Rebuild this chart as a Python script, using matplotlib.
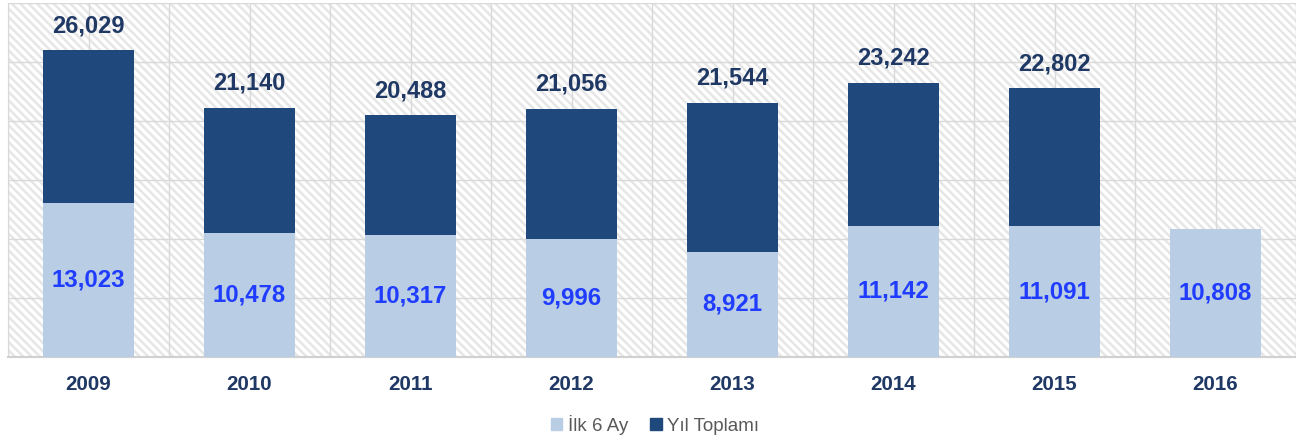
import matplotlib.pyplot as plt
from matplotlib.patches import Rectangle
import numpy as np

plt.rcParams['font.family'] = ['Liberation Sans', 'DejaVu Sans']
plt.rcParams['hatch.linewidth'] = 1.8
plt.rcParams['hatch.color'] = '#e6e6e6'

years = ['2009', '2010', '2011', '2012', '2013', '2014', '2015', '2016']
first_half = [13023, 10478, 10317, 9996, 8921, 11142, 11091, 10808]
year_total = [26029, 21140, 20488, 21056, 21544, 23242, 22802, None]

light = '#b9cde5'
dark = '#1f497d'
navy_text = '#1f3864'
blue_text = '#1f3cff'

fig = plt.figure(figsize=(12.96, 4.41), dpi=100)
ax = fig.add_axes([8 / 1296, 1 - 357 / 441, 1288 / 1296, 354 / 441])

# hatched background
ax.add_patch(Rectangle((0, 0), 1, 1, transform=ax.transAxes, facecolor='white',
                       edgecolor='#e6e6e6', hatch='\\\\\\\\', linewidth=0, zorder=0))

x = np.arange(len(years))
ax.set_xlim(-0.5, len(years) - 0.5)
ax.set_ylim(0, 30000)

# grid
for gy in range(5000, 30001, 5000):
    ax.axhline(gy, color='#d9d9d9', linewidth=1, zorder=1)
for gx in np.arange(-0.5, len(years), 0.5):
    ax.axvline(gx, color='#d9d9d9', linewidth=1, zorder=1)

w = 0.57
tot_x = [xi for xi, v in zip(x, year_total) if v is not None]
tot_v = [v for v in year_total if v is not None]
ax.bar(tot_x, tot_v, width=w, color=dark, zorder=2)
ax.bar(x, first_half, width=w, color=light, zorder=3)

for xi, v in zip(tot_x, tot_v):
    ax.annotate(f'{v:,}', (xi, v), xytext=(0, 17.5), textcoords='offset points',
                ha='center', va='center', fontsize=17, fontweight='bold', color=navy_text)
for xi, v in zip(x, first_half):
    ax.text(xi, v / 2, f'{v:,}', ha='center', va='center', fontsize=17.3,
            fontweight='bold', color=blue_text, zorder=4)

ax.set_xticks(x)
ax.set_xticklabels(years, fontsize=14.8, fontweight='bold', color=navy_text)
ax.tick_params(axis='x', length=0, pad=13)
ax.set_yticks([])
for side in ['top', 'right']:
    ax.spines[side].set_visible(False)
ax.spines['left'].set_color('#d9d9d9')
ax.spines['bottom'].set_color('#d0d0d0')
ax.spines['bottom'].set_linewidth(1.5)

handles = [Rectangle((0, 0), 1, 1, color=light), Rectangle((0, 0), 1, 1, color=dark)]
fig.legend(handles, ['İlk 6 Ay', 'Yıl Toplamı'], loc='center', bbox_to_anchor=(655 / 1296, 1 - 425 / 441),
           ncol=2, frameon=False, fontsize=13.5, handlelength=0.6, handleheight=0.6,
           handletextpad=0.3, columnspacing=1.2, labelcolor='#595959')

fig.savefig('out.png', dpi=100)
